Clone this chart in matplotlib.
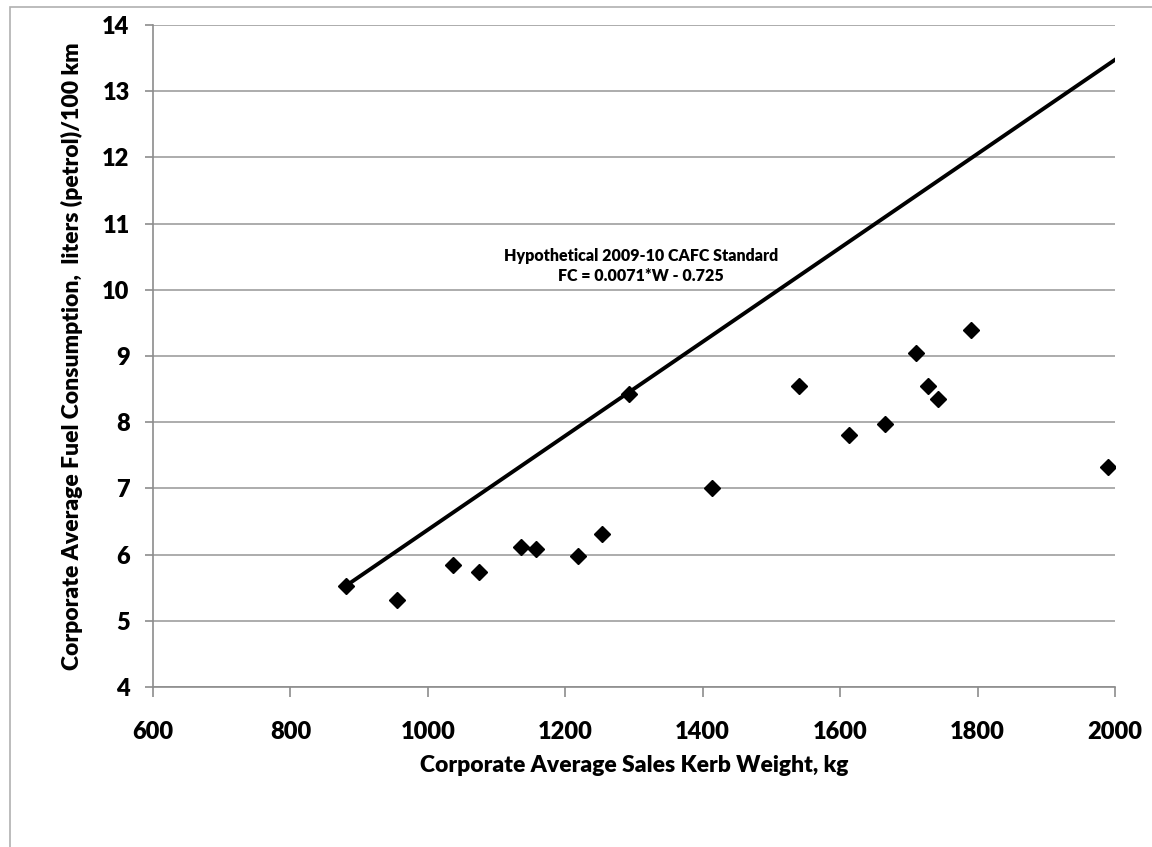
import matplotlib.pyplot as plt
import numpy as np
from matplotlib.patches import Rectangle

# kerb weight (kg) vs fuel consumption (l/100 km) per manufacturer
weight = [881, 955, 1037, 1074, 1135, 1157, 1218, 1253, 1292, 1413,
          1540, 1613, 1665, 1711, 1728, 1743, 1790, 1990]
fuel = [5.53, 5.31, 5.85, 5.74, 6.12, 6.08, 5.98, 6.31, 8.42, 7.0,
        8.55, 7.8, 7.98, 9.05, 8.55, 8.35, 9.4, 7.33]

# standard line FC = 0.0071*W - 0.725
slope = 0.0071
intercept = -0.725
w_line = np.array([880, 2000])

plt.rcParams['font.family'] = ['Lato', 'DejaVu Sans']
wt = 'heavy'

fig = plt.figure(figsize=(11.52, 8.47), dpi=100)
fig.patches.append(Rectangle((10 / 1152, -0.1), 1.1, 1.1 - 7 / 847,
                             transform=fig.transFigure, fill=False,
                             edgecolor='#b0b0b0', lw=1.2))
ax = fig.add_axes([153 / 1152, 1 - 687 / 847, (1115 - 153) / 1152, (687 - 25) / 847])

ax.plot(w_line, slope * w_line + intercept, color='black', lw=2.8, zorder=3)
ax.plot(weight, fuel, 'D', color='black', markersize=8.5, zorder=4, ls='none')

ax.set_xlim(600, 2000)
ax.set_ylim(4, 14)
ax.set_xticks(range(600, 2001, 200))
ax.set_yticks(range(4, 15))
ax.grid(axis='y', color='#a6a6a6', lw=1.3)
ax.set_axisbelow(True)
for s in ['top', 'right']:
    ax.spines[s].set_visible(False)
for s in ['left', 'bottom']:
    ax.spines[s].set_color('#8c8c8c')
    ax.spines[s].set_linewidth(1.2)
ax.tick_params(direction='out', width=1.2, color='#8c8c8c', labelsize=17)
ax.tick_params(axis='x', length=7.2, pad=17)
ax.tick_params(axis='y', length=5.8, pad=11)
for lab in ax.get_xticklabels() + ax.get_yticklabels():
    lab.set_fontweight(wt)

ax.set_xlabel('Corporate Average Sales Kerb Weight, kg', fontsize=16.5,
              fontweight=wt, labelpad=9)
ax.set_ylabel('Corporate Average Fuel Consumption,  liters (petrol)/100 km',
              fontsize=16.5, fontweight=wt, labelpad=14)

ax.text(1310, 10.36, 'Hypothetical 2009-10 CAFC Standard\nFC = 0.0071*W - 0.725',
        ha='center', va='center', fontsize=11.5, fontweight=wt,
        linespacing=1.3)

fig.savefig('out.png', dpi=100)
